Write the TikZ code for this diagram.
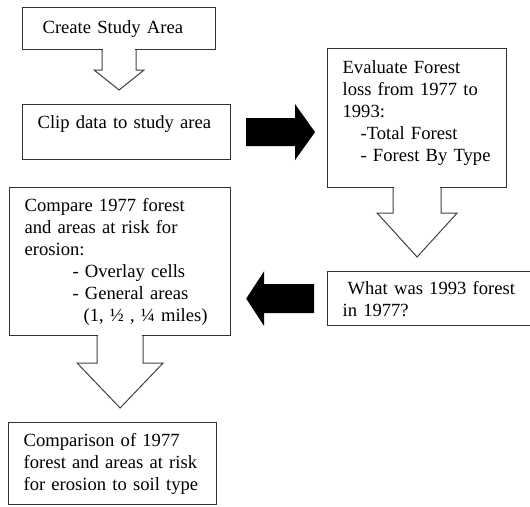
\documentclass[tikz,border=0pt]{standalone}
\usepackage{fontspec}
\setmainfont{Liberation Serif}
\usetikzlibrary{calc}

\begin{document}
\begin{tikzpicture}[x=1pt, y=-1pt,
box/.style={draw=black!80, line width=1.2pt, anchor=north west, align=left, inner xsep=14pt, inner ysep=0pt, font=\fontsize{18.6}{22}\selectfont},
hollow/.style={draw=black!75, line width=1pt, line join=miter},
solid/.style={fill=black}]

\useasboundingbox (0,0) rectangle (530,506);
\clip (0,0) rectangle (530,506);

%%%%%%%% BOXES %%%%%%%%%%%%%
\node[box, text width=165pt, minimum height=42pt](create) at (22,7) {\hspace*{6pt}Create Study Area};
\node[box, text width=180pt, minimum height=55pt, text depth=21pt](clip) at (22,104) {\hspace*{1pt}Clip data to study area};
\node[box, text width=151pt, minimum height=139pt, text depth=102pt](evaluate) at (327,48) {\hspace*{1pt}Evaluate Forest\\\hspace*{1pt}loss from 1977 to\\\hspace*{1pt}1993:\\\hspace*{19pt}-Total Forest\\\hspace*{19pt}- Forest By Type};
\node[box, text width=205pt, minimum height=54pt](what) at (327,271) {\hspace*{6pt}What was 1993 forest\\\hspace*{1pt}in 1977?};
\node[box, text width=193pt, minimum height=148pt](compare) at (9,187) {\hspace*{1pt}Compare 1977 forest\\\hspace*{1pt}and areas at risk for\\\hspace*{1pt}erosion:\\\hspace*{49pt}- Overlay cells\\\hspace*{49pt}- General areas\\\hspace*{60pt}(1, ½ , ¼ miles)};
\node[box, text width=180pt, minimum height=82pt](comparison) at (8,422) {\hspace*{1pt}Comparison of 1977\\\hspace*{1pt}forest and areas at risk\\\hspace*{1pt}for erosion to soil type};
%%%%%%%%%%%%%%%%%%%%%%%%%%%

% open arrows going down
\foreach \a/\b/\s/\h/\l in {create/clip/17/25/20, evaluate/what/24/40/44, compare/comparison/23/43/45}{
  \coordinate (tip\a) at ($(\a.south |- \b.north)+(0,-14)$);
  \fill[white] ($(\a.south)+(-\s+1,-1.5)$) rectangle ($(\a.south)+(\s-1,1.5)$);
  \draw[hollow] ($(\a.south)+(-\s,0)$) -- ($(tip\a)+(-\s,-\l)$) -- ($(tip\a)+(-\h,-\l)$) -- (tip\a)
    -- ($(tip\a)+(\h,-\l)$) -- ($(tip\a)+(\s,-\l)$) -- ($(\a.south)+(\s,0)$);
}

% black arrows
\coordinate (tipR) at ($(evaluate.west |- clip.east)+(-12,0)$);
\fill[solid] ($(clip.east)+(15,-14)$) -- ($(tipR)+(-20,-14)$) -- ($(tipR)+(-20,-28)$) -- (tipR)
  -- ($(tipR)+(-20,28)$) -- ($(tipR)+(-20,14)$) -- ($(clip.east)+(15,14)$) -- cycle;

\coordinate (tipL) at ($(compare.east |- what.west)+(15,0)$);
\fill[solid] ($(what.west)+(-13,-14.5)$) -- ($(tipL)+(18,-14.5)$) -- ($(tipL)+(18,-27.5)$) -- (tipL)
  -- ($(tipL)+(18,27.5)$) -- ($(tipL)+(18,14.5)$) -- ($(what.west)+(-13,14.5)$) -- cycle;
\end{tikzpicture}
\end{document}
